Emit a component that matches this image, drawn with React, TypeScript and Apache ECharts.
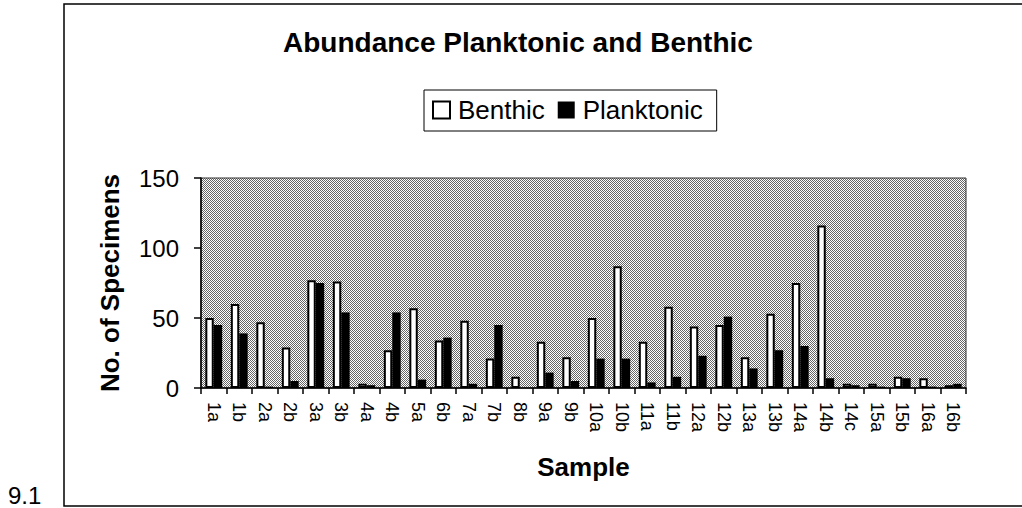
import React, { useEffect, useRef } from "react";
import * as echarts from "echarts";

const categories = ["1a","1b","2a","2b","3a","3b","4a","4b","5a","6b","7a","7b","8b","9a","9b","10a","10b","11a","11b","12a","12b","13a","13b","14a","14b","14c","15a","15b","16a","16b"];
const benthic = [50,60,47,29,77,76,3,27,57,34,48,21,8,33,22,50,87,33,58,44,45,22,53,75,116,3,3,8,7,2];
const planktonic = [45,39,1,5,75,54,2,54,6,36,3,45,0,11,5,21,21,4,8,23,51,14,27,30,7,2,1,7,1,3];
const yTicks = { min: 0, max: 150, interval: 50 };

const FONT = "'Liberation Sans', Arial, Helvetica, sans-serif";

function makePattern(): string {
  const c = document.createElement("canvas");
  c.width = 2;
  c.height = 2;
  const ctx = c.getContext("2d")!;
  ctx.fillStyle = "#ffffff";
  ctx.fillRect(0, 0, 2, 2);
  ctx.fillStyle = "#666666";
  ctx.fillRect(0, 0, 1, 1);
  ctx.fillRect(1, 1, 1, 1);
  return c.toDataURL();
}

export default function App() {
  const ref = useRef<HTMLDivElement>(null);
  useEffect(() => {
    if (!ref.current) return;
    const chart = echarts.init(ref.current, null, { renderer: "svg" });
    const pattern = {
      image: makePattern(),
      repeat: "repeat",
      imageWidth: 2,
      imageHeight: 2,
    } as any;
    chart.setOption({
      animation: false,
      backgroundColor: "#ffffff",
      textStyle: { fontFamily: FONT, color: "#000" },
      title: {
        text: "Abundance Planktonic and Benthic",
        left: 278,
        top: 23,
        textStyle: { fontFamily: FONT, fontSize: 28, fontWeight: "bold", color: "#000" },
      },
      legend: {
        left: 424,
        top: 90,
        orient: "horizontal",
        selectedMode: false,
        itemWidth: 17,
        itemHeight: 17,
        itemGap: 13,
        padding: [7, 14, 8, 8],
        borderColor: "#000",
        borderWidth: 1,
        backgroundColor: "#fff",
        icon: "rect",
        textStyle: { fontFamily: FONT, fontSize: 26, color: "#000", padding: [0, 0, 0, 3] },
        data: ["Benthic", "Planktonic"],
      },
      grid: {
        left: 201,
        top: 178,
        right: 56,
        bottom: 120,
        show: true,
        backgroundColor: pattern,
        borderColor: "#333",
        borderWidth: 1,
        containLabel: false,
      },
      xAxis: {
        type: "category",
        data: categories,
        name: "Sample",
        nameLocation: "middle",
        nameGap: 66,
        nameTextStyle: { fontFamily: FONT, fontSize: 26, fontWeight: "bold", color: "#000" },
        axisLine: { show: true, lineStyle: { color: "#000", width: 1.5 } },
        axisTick: { show: true, length: 6, alignWithLabel: false, lineStyle: { color: "#000", width: 1.5 } },
        axisLabel: {
          rotate: -90,
          interval: 0,
          margin: 14,
          fontFamily: FONT,
          fontSize: 18,
          color: "#000",
        },
        splitLine: { show: false },
      },
      yAxis: {
        type: "value",
        min: yTicks.min,
        max: yTicks.max,
        interval: yTicks.interval,
        name: "No. of Specimens",
        nameLocation: "middle",
        nameGap: 78,
        nameTextStyle: { fontFamily: FONT, fontSize: 26, fontWeight: "bold", color: "#000" },
        axisLine: { show: true, lineStyle: { color: "#000", width: 1.5 } },
        axisTick: { show: true, length: 7, lineStyle: { color: "#000", width: 1.5 } },
        axisLabel: { margin: 22, fontFamily: FONT, fontSize: 24, color: "#000" },
        splitLine: { show: false },
      },
      series: [
        {
          name: "Benthic",
          type: "bar",
          data: benthic,
          barGap: "0%",
          barCategoryGap: "34%",
          itemStyle: { color: "#ffffff", borderColor: "#000", borderWidth: 2 },
        },
        {
          name: "Planktonic",
          type: "bar",
          data: planktonic,
          barGap: "0%",
          barCategoryGap: "34%",
          itemStyle: { color: "#000" },
        },
      ],
      graphic: [
        {
          type: "rect",
          silent: true,
          z: -1,
          shape: { x: 64, y: 4, width: 1000, height: 502 },
          style: { fill: "none", stroke: "#000", lineWidth: 1.5 },
        },
        {
          type: "text",
          silent: true,
          left: 8,
          top: 483,
          style: { text: "9.1", fontFamily: FONT, fontSize: 24, fill: "#000" },
        },
      ],
    });
    return () => chart.dispose();
  }, []);
  return (
    <div
      ref={ref}
      style={{ position: "fixed", left: 0, top: 0, width: 1022, height: 508, background: "#fff" }}
    />
  );
}
